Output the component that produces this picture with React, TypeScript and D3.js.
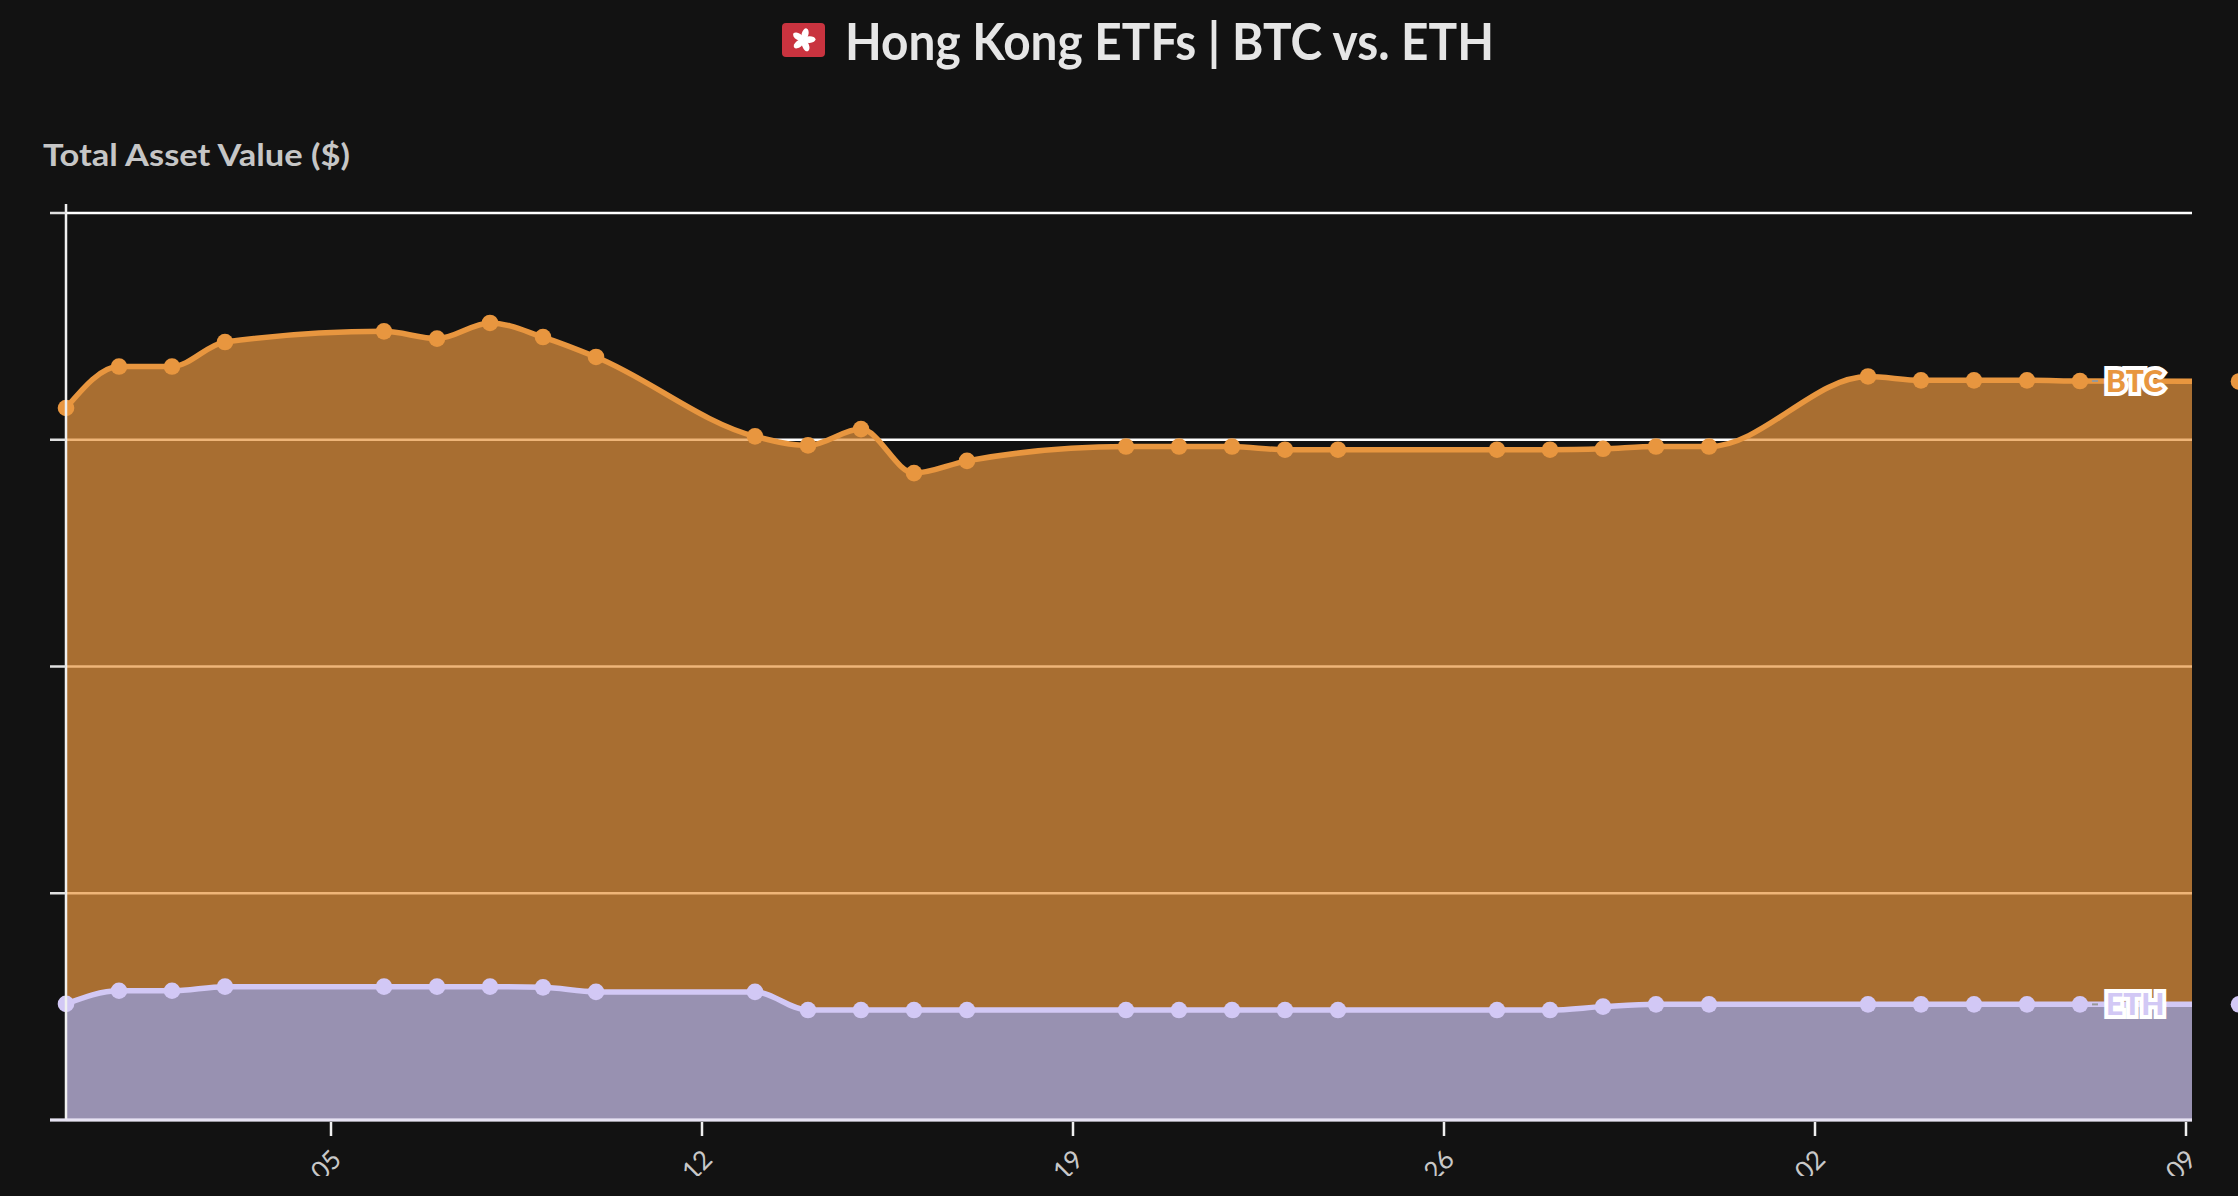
import * as d3 from 'd3';

const dates = [
  '2024-12-31', '2025-01-01', '2025-01-02', '2025-01-03',
  '2025-01-06', '2025-01-07', '2025-01-08', '2025-01-09', '2025-01-10',
  '2025-01-13', '2025-01-14', '2025-01-15', '2025-01-16', '2025-01-17',
  '2025-01-20', '2025-01-21', '2025-01-22', '2025-01-23', '2025-01-24',
  '2025-01-27', '2025-01-28', '2025-01-29', '2025-01-30', '2025-01-31',
  '2025-02-03', '2025-02-04', '2025-02-05', '2025-02-06', '2025-02-07',
  '2025-02-10',
];

// total asset value, $M
const btcValues = [
  314.0, 332.3, 332.3, 343.1,
  347.8, 344.6, 351.5, 345.3, 336.5,
  301.5, 297.5, 304.7, 285.3, 290.7,
  297.0, 297.0, 297.0, 295.6, 295.6,
  295.6, 295.6, 296.0, 297.0, 297.0,
  327.9, 326.2, 326.2, 326.2, 325.9,
  325.7,
];

const ethValues = [
  51.2, 57.0, 57.0, 58.8,
  58.8, 58.8, 58.8, 58.5, 56.5,
  56.5, 48.5, 48.5, 48.5, 48.5,
  48.5, 48.5, 48.5, 48.5, 48.5,
  48.5, 48.5, 50.0, 51.0, 51.0,
  51.0, 51.0, 51.0, 51.0, 51.0,
  51.0,
];

const xDomain = ['2024-12-31', '2025-02-09'];
const yDomain = [0, 400];

const title = 'Hong Kong ETFs | BTC vs. ETH';
const yTitle = 'Total Asset Value ($)';

const W = 2238;
const H = 1196;
const left = 66;
const right = 2192;
const top = 213;
const bottom = 1120;

const BG = '#121212';
const BTC = '#e8963f';
const ETH = '#d2c8f5';

const parse = d3.utcParse('%Y-%m-%d');
const fmt = d3.utcFormat('%Y-%m-%d');

export default function App() {
  const x = d3
    .scaleUtc()
    .domain(xDomain.map((d) => parse(d) as Date))
    .range([left, 2186]);
  const y = d3.scaleLinear().domain(yDomain).range([bottom, top]);

  const rows = dates.map((d, i) => ({ date: parse(d) as Date, btc: btcValues[i], eth: ethValues[i] }));
  const lastIn = rows.filter((r) => x(r.date) <= right).slice(-1)[0];

  const curve = d3.curveMonotoneX;
  const btcArea = d3
    .area<any>()
    .curve(curve)
    .x((d) => x(d.date))
    .y0((d) => y(d.eth))
    .y1((d) => y(d.btc));
  const ethArea = d3
    .area<any>()
    .curve(curve)
    .x((d) => x(d.date))
    .y0(y(0))
    .y1((d) => y(d.eth));
  const btcLine = d3.line<any>().curve(curve).x((d) => x(d.date)).y((d) => y(d.btc));
  const ethLine = d3.line<any>().curve(curve).x((d) => x(d.date)).y((d) => y(d.eth));

  const xTicks = x.ticks(d3.utcSunday.every(1) as any);
  const yTicks = y.ticks(4);

  const labelX = x(lastIn.date) + 26;

  return (
    <svg
      width={W}
      height={H}
      style={{ position: 'absolute', left: 0, top: 0, display: 'block', background: BG }}
      fontFamily="Lato, 'Noto Sans', sans-serif"
    >
      <defs>
        <clipPath id="plot">
          <rect x={left} y={0} width={right - left} height={bottom + 2} />
        </clipPath>
        {/* the chart's own canvas ends a little above the picture edge */}
        <clipPath id="ticklabels">
          <rect x={0} y={bottom} width={W} height={56} />
        </clipPath>
      </defs>
      <rect width={W} height={H} fill={BG} />

      {/* flag */}
      <g transform="translate(782,23)">
        <rect width={43} height={34} rx={4} fill="#c9333f" />
        <g transform="translate(21.5,17)" fill="#ffffff">
          {d3.range(5).map((i) => (
            <ellipse key={i} cx={0} cy={-6} rx={3.4} ry={6} transform={`rotate(${i * 72 + 15})`} />
          ))}
        </g>
      </g>
      <text
        x={845}
        y={60}
        fontSize={51}
        fontWeight={700}
        fill="#e6e6e6"
        textLength={649}
        lengthAdjust="spacingAndGlyphs"
      >
        {title}
      </text>
      <text
        x={43}
        y={166}
        fontSize={31}
        fontWeight={700}
        fill="#c6c6c6"
        textLength={307}
        lengthAdjust="spacingAndGlyphs"
      >
        {yTitle}
      </text>

      {/* grid */}
      {yTicks.map((t) => (
        <line key={t} x1={left} x2={right} y1={y(t)} y2={y(t)} stroke="#ffffff" strokeWidth={2.5} />
      ))}

      <g clipPath="url(#plot)">
        <path d={btcArea(rows) ?? ''} fill={BTC} fillOpacity={0.7} />
        <path d={ethArea(rows) ?? ''} fill={ETH} fillOpacity={0.7} />
        <path d={btcLine(rows) ?? ''} fill="none" stroke={BTC} strokeWidth={5.5} />
        <path d={ethLine(rows) ?? ''} fill="none" stroke={ETH} strokeWidth={5.5} />
      </g>

      {rows.map((r, i) => (
        <g key={i}>
          <circle cx={x(r.date)} cy={y(r.btc)} r={8.3} fill={BTC} />
          <circle cx={x(r.date)} cy={y(r.eth)} r={8.3} fill={ETH} />
        </g>
      ))}

      {/* axes */}
      <line x1={left} x2={left} y1={top - 9} y2={bottom} stroke="#f0f0f0" strokeWidth={2.5} />
      {yTicks.map((t) => (
        <line key={t} x1={50} x2={left} y1={y(t)} y2={y(t)} stroke="#e0e0e0" strokeWidth={2.5} />
      ))}
      <line x1={50} x2={right} y1={bottom} y2={bottom} stroke="#e6e2f2" strokeWidth={3} />
      {xTicks.map((t) => (
        <line
          key={+t}
          x1={x(t)}
          x2={x(t)}
          y1={bottom + 2}
          y2={bottom + 16}
          stroke="#f0f0f0"
          strokeWidth={2.5}
        />
      ))}
      <g clipPath="url(#ticklabels)">
        {xTicks.map((t) => (
          <text
            key={+t}
            transform={`translate(${x(t) + 12},${bottom + 41}) rotate(-45)`}
            textAnchor="end"
            fontSize={26}
            fill="#c8c8c8"
          >
            {fmt(t)}
          </text>
        ))}
      </g>

      {/* end labels */}
      {[
        { name: 'BTC', v: lastIn.btc, color: BTC },
        { name: 'ETH', v: lastIn.eth, color: ETH },
      ].map((l) => (
        <g key={l.name}>
          <line x1={labelX - 14} x2={labelX - 8} y1={y(l.v)} y2={y(l.v)} stroke="#999" strokeWidth={2} />
          <text
            x={labelX}
            y={y(l.v)}
            dy="0.36em"
            fontSize={30}
            fontWeight={900}
            fill={l.color}
            stroke="#ffffff"
            strokeWidth={8}
            strokeLinejoin="miter"
            paintOrder="stroke"
          >
            {l.name}
          </text>
        </g>
      ))}
    </svg>
  );
}
